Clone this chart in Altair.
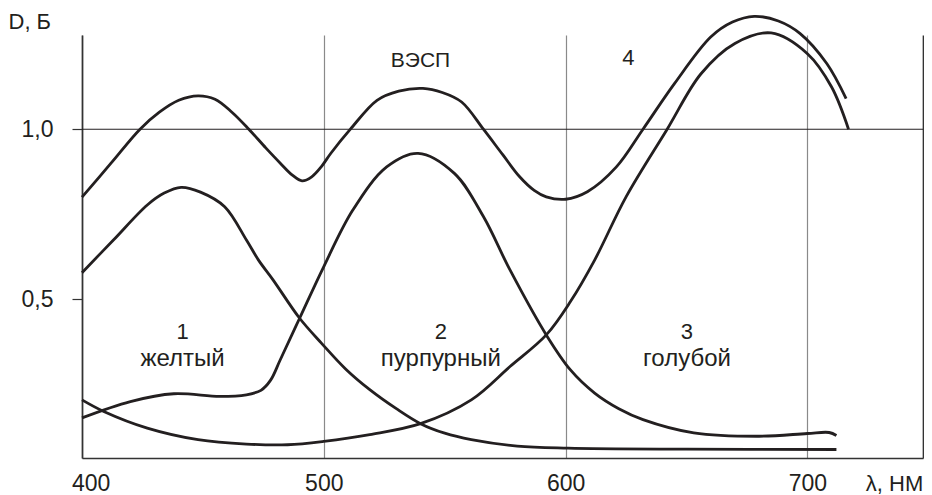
import altair as alt
import pandas as pd

# ---- data (wavelength, nm  /  optical density D, B) ----
vesp_nm = [400, 412, 424, 432, 440, 448, 455, 462, 469, 476, 482, 487, 491, 495, 499, 503,
           511, 522, 531, 541, 549, 557, 566, 574, 581, 587, 592, 600, 609, 621, 632, 645,
           660, 669, 678, 688, 697, 708, 716]
vesp_d = [0.80, 0.90, 1.00, 1.05, 1.085, 1.098, 1.088, 1.05, 1.00, 0.945, 0.90, 0.865,
          0.848, 0.86, 0.89, 0.93, 1.00, 1.085, 1.112, 1.12, 1.108, 1.08, 1.00, 0.925, 0.86,
          0.82, 0.801, 0.794, 0.816, 0.889, 1.00, 1.134, 1.271, 1.315, 1.332, 1.318, 1.281,
          1.193, 1.09]

yellow_nm = [400, 413, 427, 434, 441, 449, 459, 468, 473, 479, 490, 499, 509, 519, 530, 540,
             550, 561, 580, 601, 650, 712]
yellow_d = [0.578, 0.674, 0.777, 0.812, 0.829, 0.815, 0.772, 0.674, 0.615, 0.557, 0.444,
            0.371, 0.295, 0.234, 0.178, 0.134, 0.106, 0.087, 0.068, 0.062, 0.059, 0.058]

magenta_nm = [400, 420, 438, 457, 468, 474, 478, 482, 490, 500, 512, 526, 539, 554, 566, 577,
              592, 602, 612, 622, 632, 653, 680, 700, 709, 712]
magenta_d = [0.151, 0.199, 0.222, 0.214, 0.219, 0.232, 0.262, 0.322, 0.444, 0.596, 0.762,
             0.889, 0.929, 0.870, 0.743, 0.586, 0.395, 0.292, 0.224, 0.178, 0.146, 0.107,
             0.097, 0.105, 0.108, 0.099]

cyan_nm = [400, 409, 427, 448, 468, 485, 500, 519, 540, 561, 577, 592, 602, 612, 625, 642,
           656, 670, 685, 700, 710, 717]
cyan_d = [0.204, 0.170, 0.121, 0.087, 0.074, 0.072, 0.082, 0.102, 0.134, 0.204, 0.302,
          0.395, 0.493, 0.615, 0.801, 1.0, 1.163, 1.252, 1.283, 1.222, 1.124, 1.0]

x_ticks = [400, 500, 600, 700]
y_ticks = [0.5, 1.0]
ref_line = [1.0]

label_text = ["ВЭСП", "4", "1", "желтый", "2", "пурпурный", "3", "голубой"]
label_nm = [540, 626, 441.6, 441.6, 548.4, 548.4, 650.2, 650.2]
label_d = [1.183, 1.188, 0.383, 0.304, 0.383, 0.304, 0.383, 0.304]
label_size = [21, 22, 22, 24, 22, 24, 22, 24]

# ---- tables ----
rows = []
for name, xs, ys in [("vesp", vesp_nm, vesp_d), ("yellow", yellow_nm, yellow_d),
                     ("magenta", magenta_nm, magenta_d), ("cyan", cyan_nm, cyan_d)]:
    for i, (a, b) in enumerate(zip(xs, ys)):
        rows.append({"series": name, "nm": a, "d": b, "order": i})
curves = pd.DataFrame(rows)
labels = pd.DataFrame({"nm": label_nm, "d": label_d, "text": label_text, "size": label_size})

FONT = "Liberation Sans"
INK = "#231f20"
AXIS = "#333333"

xscale = alt.Scale(domain=[400, 747.8], nice=False, zero=False)
yscale = alt.Scale(domain=[0.033, 1.277], nice=False, zero=False)

lines = alt.Chart(curves).mark_line(
    color=INK, strokeWidth=2.8, interpolate="catmull-rom"
).encode(
    x=alt.X("nm:Q", scale=xscale, axis=alt.Axis(
        values=x_ticks, title="λ, НМ", titleX=812, titleY=32, titleAngle=0,
        titleAlign="center", titleBaseline="alphabetic", titleFont=FONT,
        titleFontSize=22, titleFontWeight="normal", titleColor=INK,
        labelFont=FONT, labelFontSize=23, labelColor=INK, labelBaseline="alphabetic",
        labelPadding=32,
        labelOffset={"condition": {"test": "datum.value === 400", "value": 8.6}, "value": 0},
        tickSize=0, domainColor=AXIS, domainWidth=1.7,
        grid=True, gridColor="#8a8a8a", gridWidth=1.2,
        labelFlush=False, labelOverlap=False)),
    y=alt.Y("d:Q", scale=yscale, axis=alt.Axis(
        values=y_ticks, labelExpr="replace(format(datum.value, '.1f'), '.', ',')",
        title="D, Б", titleX=-74, titleY=-6.5, titleAngle=0, titleAlign="left",
        titleBaseline="alphabetic", titleFont=FONT, titleFontSize=22,
        titleFontWeight="normal", titleColor=INK,
        labelFont=FONT, labelFontSize=23, labelColor=INK, labelPadding=19,
        labelBaseline="middle", tickSize=10, tickColor=AXIS, tickWidth=1.2,
        domainColor=AXIS, domainWidth=1.7, grid=False, labelFlush=False)),
    detail="series:N",
    order="order:Q",
)

hline = alt.Chart(pd.DataFrame({"d": ref_line})).mark_rule(
    color=INK, strokeWidth=1.1
).encode(
    y=alt.Y("d:Q", scale=yscale, axis=alt.Axis(
        orient="right", labels=False, ticks=False, title=None, grid=False,
        domain=True, domainColor=AXIS, domainWidth=1.7)),
)

texts = alt.Chart(labels).mark_text(
    font=FONT, color=INK, align="center", baseline="alphabetic"
).encode(
    x=alt.X("nm:Q", scale=xscale),
    y=alt.Y("d:Q", scale=yscale, axis=None),
    text="text:N",
    size=alt.Size("size:Q", scale=None, legend=None),
)

chart = alt.layer(lines, hline, texts).resolve_axis(y="independent").properties(
    width=841, height=423,
    autosize=alt.AutoSizeParams(type="none"),
    padding={"left": 74, "top": 27, "right": 1, "bottom": 38},
    background="white",
).configure_view(stroke=None)

chart.save("out.html", embed_options={"renderer": "svg", "actions": False})
